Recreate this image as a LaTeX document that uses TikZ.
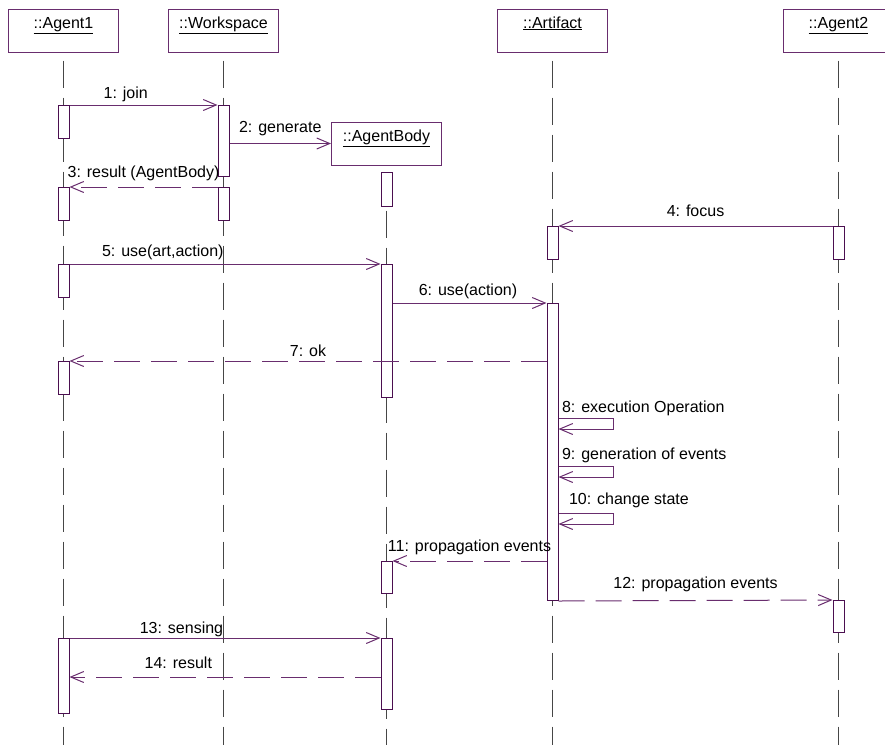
\documentclass[tikz,border=0pt]{standalone}
\usepackage{fontspec}
\setmainfont{Liberation Sans}
\usetikzlibrary{arrows.meta}
\definecolor{umlpurple}{RGB}{105,45,110}
\definecolor{bardark}{RGB}{75,15,80}
\definecolor{lifegray}{RGB}{70,70,70}
\tikzset{
  obj/.style={draw=umlpurple, line width=1pt, fill=white, minimum width=110pt,
    inner sep=0pt, text height=19pt, text depth=24pt, font=\fontsize{16}{19}\selectfont},
  lifeline/.style={draw=lifegray, line width=1pt, dash pattern=on 27pt off 10pt},
  bar/.style={draw=bardark, line width=1pt, fill=white, minimum width=11pt,
    inner sep=0pt, anchor=north},
  msg/.style={draw=umlpurple, line width=1pt, -{Straight Barb[length=13pt,width=11pt]}},
  reply/.style={msg, dash pattern=on 26pt off 11pt},
  lbl/.style={font=\fontsize{16}{19}\selectfont, anchor=base, inner sep=0pt, text=black},
}
\begin{document}
\begin{tikzpicture}[x=1pt,y=-1pt]
\useasboundingbox (0,0) rectangle (885,745);
\coordinate (bottom) at (0,745);
% objects
\node[obj] (agent1) at (63.5,30.5) {\underline{::Agent1}};
\node[obj] (workspace) at (223.5,30.5) {\underline{::Workspace}};
\node[obj] (artifact) at (552.5,30.5) {\underline{::Artifact}};
\node[obj] (agent2) at (838.5,30.5) {\underline{::Agent2}};
\node[obj] (body) at (386.5,143.5) {\underline{::AgentBody}};
% lifelines
\foreach \o in {agent1,workspace,body,artifact,agent2}
  \draw[lifeline] ([yshift=-8pt]\o.south) -- (\o |- bottom);
% activation bars
\node[bar, minimum height=33pt] (a1b1) at (63.5,105) {};
\node[bar, minimum height=33pt] (a1b2) at (63.5,187) {};
\node[bar, minimum height=33pt] (a1b3) at (63.5,264) {};
\node[bar, minimum height=33pt] (a1b4) at (63.5,361) {};
\node[bar, minimum height=75pt] (a1b5) at (63.5,638) {};
\node[bar, minimum height=71pt] (wsb1) at (223.5,105) {};
\node[bar, minimum height=33pt] (wsb2) at (223.5,187) {};
\node[bar, minimum height=34pt] (bdb1) at (386.5,172) {};
\node[bar, minimum height=133pt] (bdb2) at (386.5,264) {};
\node[bar, minimum height=32pt] (bdb3) at (386.5,561) {};
\node[bar, minimum height=71pt] (bdb4) at (386.5,638) {};
\node[bar, minimum height=33pt] (arb1) at (552.5,226) {};
\node[bar, minimum height=297pt] (arb2) at (552.5,303) {};
\node[bar, minimum height=33pt] (a2b1) at (838.5,226) {};
\node[bar, minimum height=32pt] (a2b2) at (838.5,600) {};
% messages
\draw[msg] (a1b1.north east) -- node[lbl, pos=.38, yshift=7pt] (l1) {1: join} (wsb1.north west);
\draw[msg] (body.west -| wsb1.east) -- node[lbl, pos=.5, yshift=11pt] (l2) {2: generate} (body.west);
\draw[reply] (wsb2.north west) -- node[lbl, pos=.5, yshift=10pt] (l3) {3: result (AgentBody)} (a1b2.north east);
\draw[msg] (a2b1.north west) -- node[lbl, pos=.5, yshift=10pt] (l4) {4: focus} (arb1.north east);
\draw[msg] (a1b3.north east) -- node[lbl, pos=.3, yshift=8pt] (l5) {5: use(art,action)} (bdb2.north west);
\draw[msg] (arb2.north west -| bdb2.east) -- node[lbl, pos=.49, yshift=8pt] (l6) {6: use(action)} (arb2.north west);
\draw[reply] (a1b4.north east -| arb2.west) -- node[lbl, pos=.5, yshift=5pt] (l7) {7: ok} (a1b4.north east);
\draw[msg] ([yshift=-115pt]arb2.north east) node[lbl, anchor=base west, xshift=3pt, yshift=6pt] (l8) {8: execution Operation}
  -- ++(55,0) -- ++(0,11) -- ++(-55,0);
\draw[msg] ([yshift=-163pt]arb2.north east) node[lbl, anchor=base west, xshift=3pt, yshift=7pt] (l9) {9: generation of events}
  -- ++(55,0) -- ++(0,11) -- ++(-55,0);
\draw[msg] ([yshift=-210pt]arb2.north east) node[lbl, anchor=base west, xshift=10pt, yshift=9pt] (l10) {10: change state}
  -- ++(55,0) -- ++(0,11) -- ++(-55,0);
\draw[reply] (bdb3.north east -| arb2.west) -- node[lbl, pos=.5, yshift=10pt] (l11) {11: propagation events} (bdb3.north east);
\draw[reply] (arb2.south east) -- node[lbl, pos=.5, yshift=12pt] (l12) {12: propagation events} (a2b2.north west);
\draw[msg] (a1b5.north east) -- node[lbl, pos=.36, yshift=5pt] (l13) {13: sensing} (bdb4.north west);
\draw[reply] ([yshift=-39pt]bdb4.north west) -- node[lbl, pos=.65, yshift=9pt] (l14) {14: result} ([yshift=-39pt]a1b5.north east);
\end{tikzpicture}
\end{document}
